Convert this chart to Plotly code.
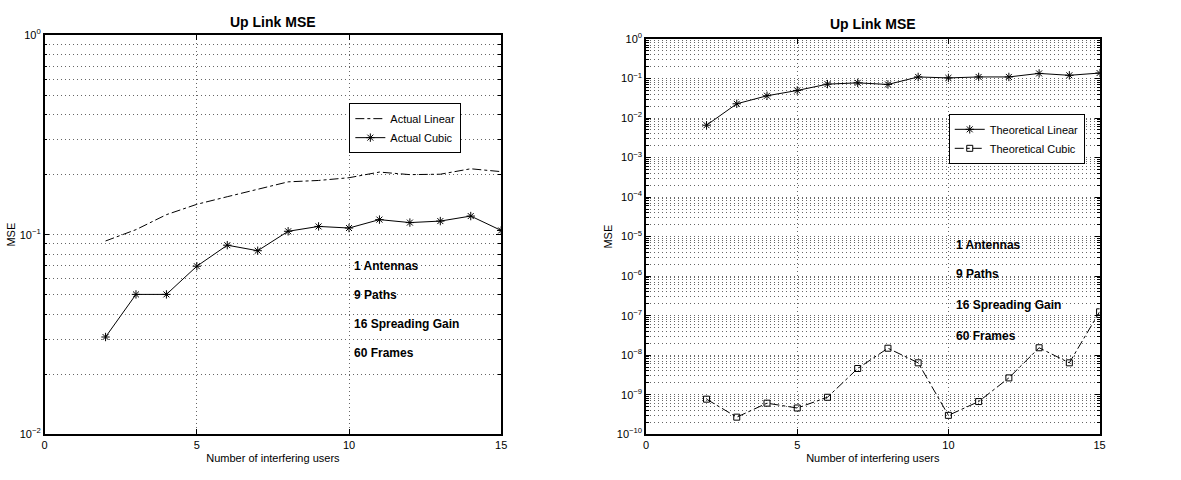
import math
import plotly.graph_objects as go

# Number of interfering users
users = [2, 3, 4, 5, 6, 7, 8, 9, 10, 11, 12, 13, 14, 15]

# Measured (actual) MSE
actual_linear = [0.093, 0.106, 0.126, 0.142, 0.155, 0.169, 0.184, 0.187, 0.193, 0.206, 0.200, 0.201, 0.214, 0.207]
actual_cubic = [0.0307, 0.0502, 0.0502, 0.0695, 0.0886, 0.0831, 0.104, 0.110, 0.108, 0.119, 0.115, 0.117, 0.124, 0.105]

# Theoretical MSE
theory_linear = [0.0066, 0.023, 0.0367, 0.050, 0.0724, 0.078, 0.071, 0.110, 0.104, 0.110, 0.110, 0.135, 0.121, 0.138]
theory_cubic = [7.7e-10, 2.7e-10, 6.1e-10, 4.6e-10, 8.6e-10, 4.6e-9, 1.5e-8, 6.4e-9, 3.0e-10, 6.7e-10, 2.66e-9, 1.54e-8, 6.4e-9, 1.25e-7]

# Simulation parameters printed on both panels
params = ["1 Antennas", "9 Paths", "16 Spreading Gain", "60 Frames"]
params_y_left = [0.07, 0.05, 0.0358, 0.0256]
params_y_right = [10 ** -5.2, 10 ** -5.95, 10 ** -6.73, 10 ** -7.52]

x_ticks = [0, 5, 10, 15]
left_decades = [-2, -1, 0]
right_decades = list(range(-10, 1))

FONT = "Liberation Sans, Arial, Helvetica, sans-serif"
GRID_DASH = "1px,3px"
GRID_COLOR = "#666666"


def decade_labels(exps):
    out = []
    for e in exps:
        s = str(abs(e))
        out.append("10<sup>" + ("\u2212" if e < 0 else "") + s + "</sup>")
    return out


def minor_vals(exps):
    vals = []
    for e in exps[:-1]:
        for m in range(2, 10):
            vals.append(m * 10 ** e)
    return vals


fig = go.Figure()

fig.add_trace(go.Scatter(
    x=users, y=actual_linear, mode="lines", name="Actual Linear",
    line=dict(color="black", width=1, dash="dashdot"),
    xaxis="x", yaxis="y", legend="legend"))
fig.add_trace(go.Scatter(
    x=users, y=actual_cubic, mode="lines+markers", name="Actual Cubic",
    line=dict(color="black", width=1),
    marker=dict(symbol="asterisk-open", size=7, color="black", line=dict(width=1, color="black")),
    xaxis="x", yaxis="y", legend="legend"))

fig.add_trace(go.Scatter(
    x=users, y=theory_linear, mode="lines+markers", name="Theoretical Linear",
    line=dict(color="black", width=1),
    marker=dict(symbol="asterisk-open", size=7, color="black", line=dict(width=1, color="black")),
    xaxis="x2", yaxis="y2", legend="legend2"))
fig.add_trace(go.Scatter(
    x=users, y=theory_cubic, mode="lines+markers", name="Theoretical Cubic",
    line=dict(color="black", width=1, dash="dashdot"),
    marker=dict(symbol="square-open", size=6, color="black", line=dict(width=1, color="black")),
    xaxis="x2", yaxis="y2", legend="legend2"))

grid_common = dict(showgrid=True, gridcolor=GRID_COLOR, griddash=GRID_DASH, gridwidth=1,
                   showline=True, linecolor="black", linewidth=1.5, mirror="ticks",
                   ticks="inside", tickcolor="black", zeroline=False,
                   tickfont=dict(family=FONT, size=11, color="black"))

xaxis_common = dict(grid_common, range=[0, 15], tickvals=x_ticks, ticklen=5,
                    title=dict(text="Number of interfering users",
                               font=dict(family=FONT, size=11, color="black"), standoff=4))


def yaxis_cfg(exps, domain):
    return dict(grid_common, type="log", range=[exps[0], exps[-1]], domain=domain,
                tickvals=[10 ** e for e in exps], ticktext=decade_labels(exps), ticklen=5,
                minor=dict(tickvals=minor_vals(exps), ticks="inside", ticklen=3, tickcolor="black",
                           showgrid=True, gridcolor=GRID_COLOR, griddash=GRID_DASH, gridwidth=1),
                title=dict(text="MSE", font=dict(family=FONT, size=11, color="black"), standoff=2))


fig.update_layout(
    width=1181, height=480,
    margin=dict(l=0, r=0, t=0, b=0),
    paper_bgcolor="white", plot_bgcolor="white",
    font=dict(family=FONT, size=11, color="black"),
    xaxis=dict(xaxis_common, domain=[42 / 1181, 502 / 1181], anchor="y"),
    yaxis=yaxis_cfg(left_decades, [1 - 439 / 480, 1 - 28 / 480]) | dict(anchor="x"),
    xaxis2=dict(xaxis_common, domain=[648 / 1181, 1105 / 1181], anchor="y2"),
    yaxis2=yaxis_cfg(right_decades, [1 - 439 / 480, 1 - 32 / 480]) | dict(anchor="x2"),
    legend=dict(x=349 / 1181, y=1 - 98 / 480, xanchor="left", yanchor="top",
                bgcolor="white", bordercolor="black", borderwidth=1,
                font=dict(family=FONT, size=11, color="black"),
                tracegroupgap=0, itemwidth=30),
    legend2=dict(x=953 / 1181, y=1 - 109 / 480, xanchor="left", yanchor="top",
                 bgcolor="white", bordercolor="black", borderwidth=1,
                 font=dict(family=FONT, size=11, color="black"),
                 tracegroupgap=0, itemwidth=30),
    showlegend=True,
)

annotations = []
# Panel titles
for xc, yc in [((42 + 502) / 2 / 1181, 1 - 14 / 480), ((648 + 1105) / 2 / 1181, 1 - 16 / 480)]:
    annotations.append(dict(text="<b>Up Link MSE</b>", xref="paper", yref="paper", x=xc, y=yc,
                            showarrow=False, xanchor="center", yanchor="middle",
                            font=dict(family=FONT, size=14, color="black")))
# Parameter labels
for txt, yv in zip(params, params_y_left):
    annotations.append(dict(text="<b>" + txt + "</b>", xref="x", yref="y", x=10.1, y=math.log10(yv),
                            showarrow=False, xanchor="left", yanchor="middle",
                            font=dict(family=FONT, size=12, color="black")))
for txt, yv in zip(params, params_y_right):
    annotations.append(dict(text="<b>" + txt + "</b>", xref="x2", yref="y2", x=10.2, y=math.log10(yv),
                            showarrow=False, xanchor="left", yanchor="middle",
                            font=dict(family=FONT, size=12, color="black")))
fig.update_layout(annotations=annotations)

fig.write_html("out.html")
